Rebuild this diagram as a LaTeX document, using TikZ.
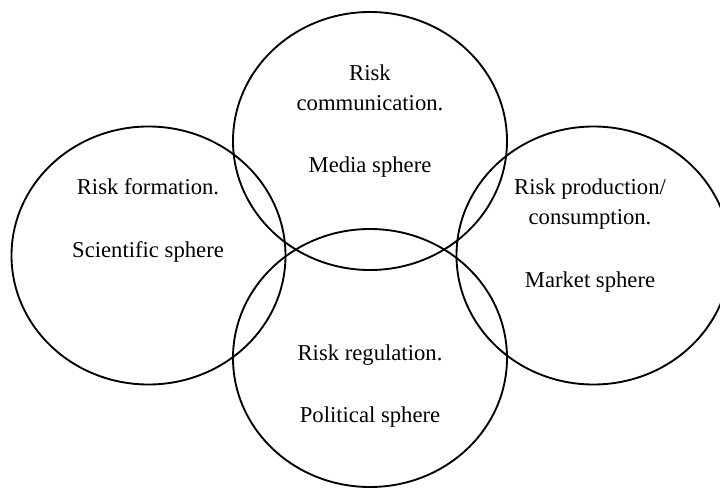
\documentclass[tikz,border=0pt]{standalone}
\usepackage{fontspec}
\setmainfont{Liberation Serif}
\begin{document}
\begin{tikzpicture}[x=0.75pt,y=-0.75pt,
  sphere/.style={draw=black,line width=1.4pt},
  lbl/.style={anchor=base,inner sep=0pt,font=\fontsize{17}{22}\selectfont}]
\useasboundingbox (0,0) rectangle (720,489);
\clip (0,0) rectangle (720,489);
% ellipses
\draw[sphere] (370,141) ellipse [x radius=102.75pt, y radius=96.75pt];
\draw[sphere] (148.5,255.5) ellipse [x radius=102.75pt, y radius=96.75pt];
\draw[sphere] (593.5,255.5) ellipse [x radius=102.75pt, y radius=96.75pt];
\draw[sphere] (370,358) ellipse [x radius=102.75pt, y radius=96.75pt];
% top
\node[lbl] (t1) at (370,80) {Risk};
\node[lbl] (t2) at (370,110) {communication.};
\node[lbl] (t3) at (370,172) {Media sphere};
% left
\node[lbl] (l1) at (148,194) {Risk formation.};
\node[lbl] (l2) at (148,257) {Scientific sphere};
% right
\node[lbl] (r1) at (590,194) {Risk production/};
\node[lbl] (r2) at (590,224) {consumption.};
\node[lbl] (r3) at (590,287) {Market sphere};
% bottom
\node[lbl] (b1) at (370,360) {Risk regulation.};
\node[lbl] (b2) at (370,422) {Political sphere};
\end{tikzpicture}
\end{document}
